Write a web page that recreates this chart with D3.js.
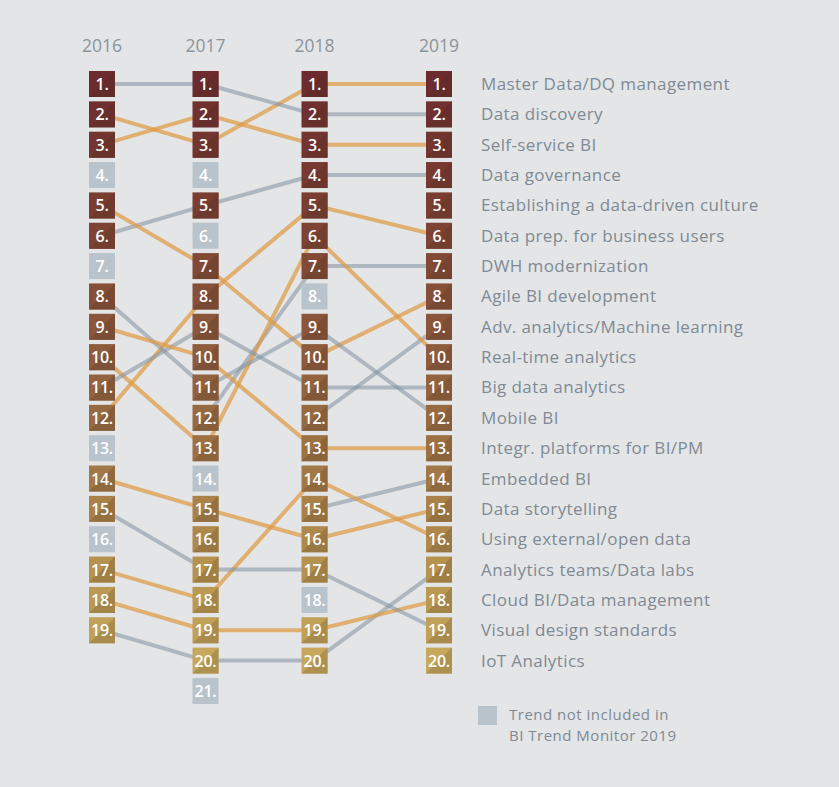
<!DOCTYPE html>
<html>
<head>
<meta charset="utf-8">
<script src="https://cdn.jsdelivr.net/npm/d3@7"></script>
<style>
  html, body { margin: 0; padding: 0; background: #e4e5e6; }
  svg { display: block; }
</style>
</head>
<body>
<script>
// ---------- DATA ----------
const years = ["2016", "2017", "2018", "2019"];
const trends = [
  "Master Data/DQ management", "Data discovery", "Self-service BI", "Data governance",
  "Establishing a data-driven culture", "Data prep. for business users", "DWH modernization",
  "Agile BI development", "Adv. analytics/Machine learning", "Real-time analytics",
  "Big data analytics", "Mobile BI", "Integr. platforms for BI/PM", "Embedded BI",
  "Data storytelling", "Using external/open data", "Analytics teams/Data labs",
  "Cloud BI/Data management", "Visual design standards", "IoT Analytics"
];
// rank of each trend (2019 order) per year; null = not ranked
const rank2016 = [2, 1, 3, 6, null, 12, null, 5, null, 10, 11, 8, 9, null, 14, 17, 19, 18, 15, null];
const rank2017 = [3, 1, 2, 5, null, 8, 12, 7, null, 13, 9, 11, 10, null, 15, 18, 20, 19, 17, null];
const rank2018 = [1, 2, 3, 4, null, 5, 7, 10, 12, 6, 11, 9, 13, 15, 16, 14, 20, 19, 17, null];
const rank2019 = [1, 2, 3, 4, 5, 6, 7, 8, 9, 10, 11, 12, 13, 14, 15, 16, 17, 18, 19, 20];
// line group of each trend: "o" = orange, "g" = grey
const lineGroup = ["o", "g", "o", "g", "o", "o", "g", "o", "g", "o", "g", "g", "o", "g", "o", "o", "g", "o", "g", "g"];
// number of ranks shown per year and ranks not included in 2019
const rankCount = [19, 21, 20, 20];
const excludedRanks = [[4, 7, 13, 16], [4, 6, 14, 21], [8, 18], []];
const legendLines = ["Trend not included in", "BI Trend Monitor 2019"];

// ---------- LAYOUT ----------
const W = 839, H = 787;
const svg = d3.select("body").append("svg").attr("width", W).attr("height", H);
svg.append("rect").attr("width", W).attr("height", H).attr("fill", "#e4e5e6");

const x = d3.scaleOrdinal().domain(years).range([102, 205.5, 314.5, 439]);
const y = d3.scaleLinear().domain([1, 20]).range([84, 660.6]);
const S = 26;

const colorScale = d3.scaleLinear()
  .domain([1, 5, 10, 14, 17, 20])
  .range(["#6c2b2e", "#7a3e31", "#8e5b3d", "#a27846", "#b6924f", "#c6a75c"]);
const darken = c => d3.interpolateRgb(c, "#3a2a1a")(0.18);

const fontFam = "'Open Sans', 'DejaVu Sans', sans-serif";

// year headers
svg.append("g").selectAll("text").data(years).join("text")
  .attr("x", d => x(d)).attr("y", 52)
  .attr("text-anchor", "middle")
  .attr("font-family", fontFam).attr("font-size", 17.5)
  .attr("fill", "#8a949e")
  .text(d => d);

// lines
const allRanks = [rank2016, rank2017, rank2018, rank2019];
const segs = [];
trends.forEach((t, i) => {
  for (let k = 0; k < years.length - 1; k++) {
    const a = allRanks[k][i], b = allRanks[k + 1][i];
    if (a != null && b != null) segs.push({ y0: years[k], y1: years[k + 1], a, b, g: lineGroup[i] });
  }
});
svg.append("g").selectAll("line").data(segs).join("line")
  .attr("x1", d => x(d.y0)).attr("y1", d => y(d.a))
  .attr("x2", d => x(d.y1)).attr("y2", d => y(d.b))
  .attr("stroke", d => d.g === "o" ? "#de9a45" : "#8291a0")
  .attr("stroke-opacity", d => d.g === "o" ? 0.72 : 0.55)
  .attr("stroke-width", 4);

// squares
const cells = [];
years.forEach((yr, k) => {
  for (let r = 1; r <= rankCount[k]; r++) {
    cells.push({ yr, r, excluded: excludedRanks[k].includes(r) });
  }
});
const cg = svg.append("g").selectAll("g").data(cells).join("g")
  .attr("transform", d => `translate(${x(d.yr) - S / 2},${y(d.r) - S / 2})`);
cg.append("rect").attr("width", S).attr("height", S)
  .attr("fill", d => d.excluded ? "#b9c3cc" : colorScale(d.r));
cg.filter(d => !d.excluded).append("path")
  .attr("d", `M${S},0 L${S},${S} L0,${S} Z`)
  .attr("fill", d => darken(colorScale(d.r)));
cg.append("text")
  .attr("x", S / 2).attr("y", S / 2 + 6)
  .attr("text-anchor", "middle")
  .attr("font-family", fontFam).attr("font-size", 16)
  .attr("letter-spacing", -0.3)
  .attr("font-weight", 600)
  .attr("fill", "#ffffff")
  .text(d => d.r + ".");

// labels
svg.append("g").selectAll("text").data(trends).join("text")
  .attr("x", 481).attr("y", (d, i) => y(rank2019[i]) + 6)
  .attr("font-family", fontFam).attr("font-size", 17)
  .attr("letter-spacing", 0.4)
  .attr("fill", "#7e8a95")
  .text(d => d);

// legend
svg.append("rect").attr("x", 478).attr("y", 706).attr("width", 19).attr("height", 19).attr("fill", "#b9c3cc");
svg.append("g").selectAll("text").data(legendLines).join("text")
  .attr("x", 509).attr("y", (d, i) => 720 + i * 21)
  .attr("font-family", fontFam).attr("font-size", 15)
  .attr("letter-spacing", 0.5)
  .attr("fill", "#7e8a95")
  .text(d => d);
</script>
</body>
</html>
